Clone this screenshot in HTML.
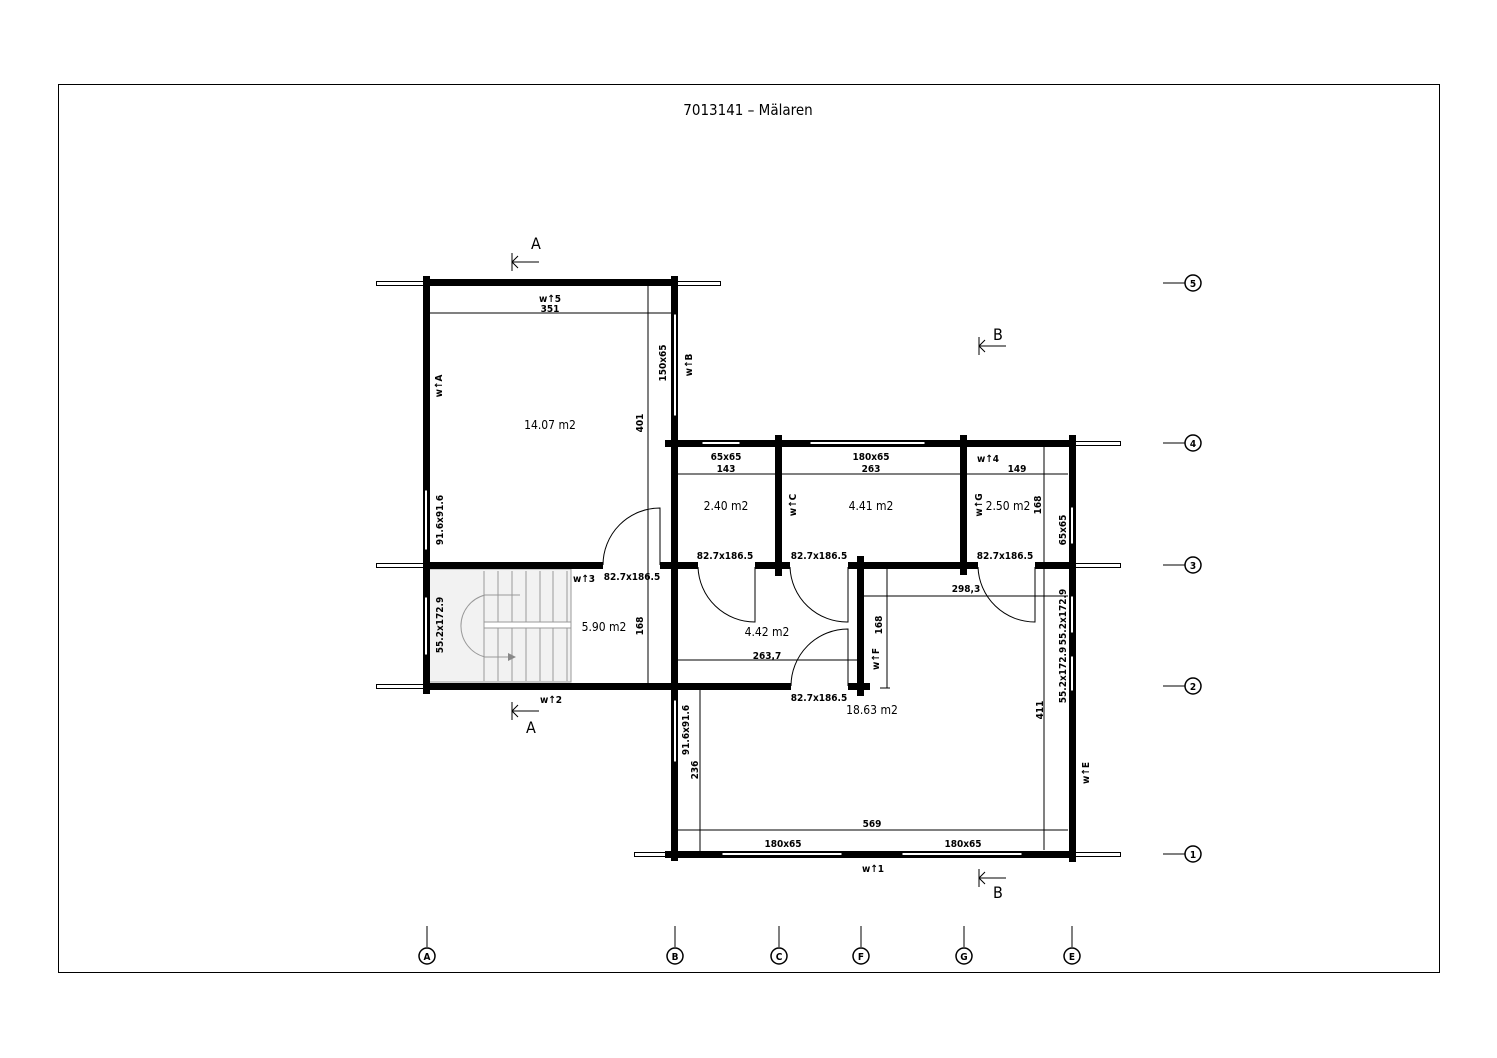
<!DOCTYPE html>
<html><head><meta charset="utf-8"><style>
html,body{margin:0;padding:0;background:#fff;}
svg{display:block;}
text{font-family:"DejaVu Sans Condensed","Liberation Sans",sans-serif;fill:#000;}
.s{font-size:10px;font-weight:bold;}
</style></head><body>
<svg width="1497" height="1058" viewBox="0 0 1497 1058" xmlns="http://www.w3.org/2000/svg">
<rect x="58.5" y="84.5" width="1381" height="888" fill="none" stroke="#000" stroke-width="1"/>
<text x="748" y="115" font-size="15" text-anchor="middle">7013141 – Mälaren</text>

<!-- stairs -->
<rect x="429" y="569" width="142" height="113" fill="#f2f2f2" stroke="#999" stroke-width="1"/>
<g stroke="#999" stroke-width="1">
<line x1="484" y1="571" x2="484" y2="681"/><line x1="498" y1="571" x2="498" y2="681"/>
<line x1="512" y1="571" x2="512" y2="681"/><line x1="526" y1="571" x2="526" y2="681"/>
<line x1="540" y1="571" x2="540" y2="681"/><line x1="553" y1="571" x2="553" y2="681"/>
<line x1="567" y1="571" x2="567" y2="681"/>
<rect x="484" y="622" width="87" height="6" fill="#fff"/>
<path d="M520 595 H485 A32 32 0 0 0 485 657 H510" fill="none"/>
</g>
<polygon points="508,653 516,657 508,661" fill="#888"/>

<g stroke="#000" stroke-width="1" fill="none">
<line x1="430" y1="313" x2="672" y2="313"/>
<line x1="648" y1="286" x2="648" y2="686"/>
<line x1="678" y1="474" x2="1068" y2="474"/>
<line x1="1044" y1="446" x2="1044" y2="850"/>
<line x1="678" y1="660" x2="858" y2="660"/>
<line x1="863" y1="596" x2="1068" y2="596"/>
<line x1="887" y1="568" x2="887" y2="688"/><line x1="880" y1="688" x2="890" y2="688"/>
<line x1="700" y1="690" x2="700" y2="851"/>
<line x1="678" y1="830" x2="1068" y2="830"/>
<path d="M603 565 A57 57 0 0 1 660 508 V565"/>
<path d="M698 567 A57 57 0 0 0 755 622 V567"/>
<path d="M790 567 A57 57 0 0 0 848 622 V567"/>
<path d="M791 686 A57 57 0 0 1 848 629 V686"/>
<path d="M978 567 A57 57 0 0 0 1035 622 V567"/>
<rect x="376.5" y="281.5" width="47" height="4"/><rect x="677.5" y="281.5" width="43" height="4"/>
<rect x="376.5" y="563.5" width="47" height="4"/><rect x="376.5" y="684.5" width="47" height="4"/>
<rect x="1075.5" y="441.5" width="45" height="4"/><rect x="1075.5" y="563.5" width="45" height="4"/>
<rect x="1075.5" y="852.5" width="45" height="4"/><rect x="634.5" y="852.5" width="38" height="4"/>
<line x1="1163" y1="283" x2="1185" y2="283"/><line x1="1163" y1="443" x2="1185" y2="443"/>
<line x1="1163" y1="565" x2="1185" y2="565"/><line x1="1163" y1="686" x2="1185" y2="686"/>
<line x1="1163" y1="854" x2="1185" y2="854"/>
<line x1="427" y1="926" x2="427" y2="947"/><line x1="675" y1="926" x2="675" y2="947"/>
<line x1="779" y1="926" x2="779" y2="947"/><line x1="861" y1="926" x2="861" y2="947"/>
<line x1="964" y1="926" x2="964" y2="947"/><line x1="1072" y1="926" x2="1072" y2="947"/>
<g stroke-width="1.5">
<circle cx="1193" cy="283" r="8"/><circle cx="1193" cy="443" r="8"/><circle cx="1193" cy="565" r="8"/>
<circle cx="1193" cy="686" r="8"/><circle cx="1193" cy="854" r="8"/>
<circle cx="427" cy="956" r="8"/><circle cx="675" cy="956" r="8"/><circle cx="779" cy="956" r="8"/>
<circle cx="861" cy="956" r="8"/><circle cx="964" cy="956" r="8"/><circle cx="1072" cy="956" r="8"/>
</g>
<path d="M512 253 V271 M512 262 L539 262 M512 262 L518 256 M512 262 L518 268"/>
<path d="M512 702 V720 M512 711 L539 711 M512 711 L518 705 M512 711 L518 717"/>
<path d="M979 337 V355 M979 346 L1006 346 M979 346 L985 340 M979 346 L985 352"/>
<path d="M979 869 V887 M979 878 L1006 878 M979 878 L985 872 M979 878 L985 884"/>
</g>

<g fill="#000">
<rect x="423" y="279" width="255" height="7"/>
<rect x="423" y="276" width="7" height="418"/>
<rect x="671" y="276" width="7" height="585"/>
<rect x="665" y="440" width="411" height="7"/>
<rect x="775" y="435" width="7" height="141"/>
<rect x="960" y="435" width="7" height="140"/>
<rect x="1069" y="435" width="7" height="427"/>
<rect x="423" y="562" width="180" height="7"/>
<rect x="660" y="562" width="38" height="7"/>
<rect x="755" y="562" width="35" height="7"/>
<rect x="848" y="562" width="130" height="7"/>
<rect x="1035" y="562" width="41" height="7"/>
<rect x="857" y="556" width="7" height="140"/>
<rect x="423" y="683" width="368" height="7"/>
<rect x="848" y="683" width="22" height="7"/>
<rect x="665" y="851" width="411" height="7"/>
</g>
<g fill="#fff" stroke="#000" stroke-width="1">
<rect x="424.5" y="490" width="3" height="60"/>
<rect x="424.5" y="597" width="3" height="58"/>
<rect x="673.5" y="314" width="3" height="102"/>
<rect x="673.5" y="700" width="3" height="62"/>
<rect x="1070.5" y="507" width="3" height="37"/>
<rect x="1070.5" y="596" width="3" height="37"/>
<rect x="1070.5" y="656" width="3" height="35"/>
<rect x="702" y="441.5" width="38" height="3"/>
<rect x="810" y="441.5" width="115" height="3"/>
<rect x="722" y="852.5" width="120" height="3"/>
<rect x="902" y="852.5" width="120" height="3"/>
</g>

<g font-size="11">
<text x="531" y="249" font-size="16">A</text>
<text x="526" y="733" font-size="16">A</text>
<text x="993" y="340" font-size="16">B</text>
<text x="993" y="898" font-size="16">B</text>
<text x="550" y="429" text-anchor="middle" font-size="12">14.07 m2</text>
<text x="604" y="631" text-anchor="middle" font-size="12">5.90 m2</text>
<text x="726" y="510" text-anchor="middle" font-size="12">2.40 m2</text>
<text x="871" y="510" text-anchor="middle" font-size="12">4.41 m2</text>
<text x="1008" y="510" text-anchor="middle" font-size="12">2.50 m2</text>
<text x="767" y="636" text-anchor="middle" font-size="12">4.42 m2</text>
<text x="872" y="714" text-anchor="middle" font-size="12">18.63 m2</text>
</g>
<g class="s" text-anchor="middle">
<text x="550" y="312">351</text>
<text x="726" y="460">65x65</text><text x="726" y="472">143</text>
<text x="871" y="460">180x65</text><text x="871" y="472">263</text>
<text x="1017" y="472">149</text>
<text x="725" y="559">82.7x186.5</text>
<text x="819" y="559">82.7x186.5</text>
<text x="1005" y="559">82.7x186.5</text>
<text x="632" y="580">82.7x186.5</text>
<text x="966" y="592">298,3</text>
<text x="767" y="659">263,7</text>
<text x="819" y="701">82.7x186.5</text>
<text x="872" y="827">569</text>
<text x="783" y="847">180x65</text>
<text x="963" y="847">180x65</text>
<text x="1193" y="287" font-size="10">5</text><text x="1193" y="447" font-size="10">4</text>
<text x="1193" y="569" font-size="10">3</text><text x="1193" y="690" font-size="10">2</text>
<text x="1193" y="858" font-size="10">1</text>
<text x="427" y="960" font-size="10">A</text><text x="675" y="960" font-size="10">B</text>
<text x="779" y="960" font-size="10">C</text><text x="861" y="960" font-size="10">F</text>
<text x="964" y="960" font-size="10">G</text><text x="1072" y="960" font-size="10">E</text>
<text x="550" y="302">w↑5</text>
<text x="551" y="703">w↑2</text>
<text x="584" y="582">w↑3</text>
<text x="988" y="462">w↑4</text>
<text x="873" y="872">w↑1</text>
</g>
<g class="s" text-anchor="middle">
<text transform="translate(442,386) rotate(-90)">w↑A</text>
<text transform="translate(692,365) rotate(-90)">w↑B</text>
<text transform="translate(796,505) rotate(-90)">w↑C</text>
<text transform="translate(982,505) rotate(-90)">w↑G</text>
<text transform="translate(879,659) rotate(-90)">w↑F</text>
<text transform="translate(1089,773) rotate(-90)">w↑E</text>
<text transform="translate(443,520) rotate(-90)">91.6x91.6</text>
<text transform="translate(443,625) rotate(-90)">55.2x172.9</text>
<text transform="translate(666,363) rotate(-90)">150x65</text>
<text transform="translate(643,423) rotate(-90)">401</text>
<text transform="translate(643,626) rotate(-90)">168</text>
<text transform="translate(882,625) rotate(-90)">168</text>
<text transform="translate(1041,505) rotate(-90)">168</text>
<text transform="translate(1066,530) rotate(-90)">65x65</text>
<text transform="translate(1066,617) rotate(-90)">55.2x172.9</text>
<text transform="translate(1066,675) rotate(-90)">55.2x172.9</text>
<text transform="translate(1043,710) rotate(-90)">411</text>
<text transform="translate(689,730) rotate(-90)">91.6x91.6</text>
<text transform="translate(698,770) rotate(-90)">236</text>
</g>
</svg>
</body></html>
